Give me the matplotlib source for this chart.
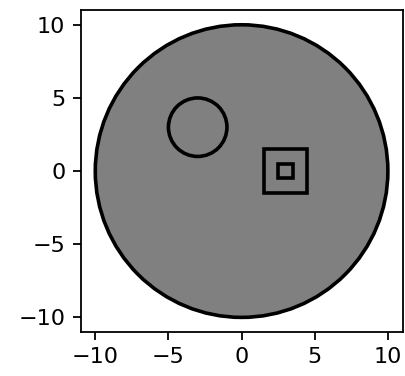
import numpy as np
import matplotlib
matplotlib.use("Agg")
import matplotlib.pyplot as plt
from matplotlib.patches import Circle, Rectangle

# Geometry of the domain boundaries
outer_center = (0.0, 0.0)
outer_radius = 10.0
hole_center = (-3.0, 3.0)
hole_radius = 2.0
square_center = (3.0, 0.0)
square_half_sizes = [1.5, 0.5]
ticks = [-10, -5, 0, 5, 10]

fig = plt.figure(figsize=(4.05, 3.76), dpi=100)
ax = fig.add_axes([0.198, 0.117, 0.797, 0.856])

ax.add_patch(Circle(outer_center, outer_radius, facecolor="#808080",
                    edgecolor="black", lw=2.6, zorder=1))
ax.add_patch(Circle(hole_center, hole_radius, facecolor="none",
                    edgecolor="black", lw=2.6, zorder=3))
for h in square_half_sizes:
    cx, cy = square_center
    ax.add_patch(Rectangle((cx - h, cy - h), 2 * h, 2 * h, facecolor="none",
                           edgecolor="black", lw=2.6, zorder=3))

ax.set_xlim(-11, 11)
ax.set_ylim(-11, 11)
ax.set_aspect("equal")
ax.set_xticks(ticks)
ax.set_yticks(ticks)
ax.tick_params(labelsize=16, length=6, width=1.3, pad=5)
for sp in ax.spines.values():
    sp.set_linewidth(1.3)
fig.savefig("out.png", dpi=100)
